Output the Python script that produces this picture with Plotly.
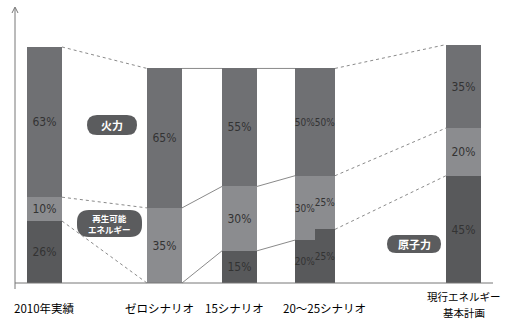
import plotly.graph_objects as go

# ---------------- data ----------------
bar_ids = ["2010年実績", "ゼロシナリオ", "15シナリオ", "20シナリオ", "25シナリオ", "現行エネルギー基本計画"]
nuclear = [26, 0, 15, 20, 25, 45]
renewable = [10, 35, 30, 30, 25, 20]
fossil = [63, 65, 55, 50, 50, 35]
total_scale = [1.0, 0.9, 0.9, 0.9, 0.9, 1.0]   # relative total generation

cat_labels = ["2010年実績", "ゼロシナリオ", "15シナリオ", "20～25シナリオ", "現行エネルギー<br>基本計画"]
legend_fossil = "火力"
legend_renew = "再生可能<br>エネルギー"
legend_nuclear = "原子力"

# ---------------- layout constants ----------------
W, H = 505, 320
K = 2.384            # pixels per unit
AX_Y = 283           # pixel row of the baseline
bar_x = [44.5, 164.5, 239.5, 305, 325, 463.5]
bar_w = [35, 35, 35, 20, 20, 35]
txt_size = [12, 12, 12, 10, 10, 12]
label_x = [44.5, 159, 234, 324, 464]
label_y = 308
ML_Y0 = 296.5        # first row of a two-row label
LINE_GAP = 15.5

C_FOSSIL = "#6f7073"
C_RENEW = "#8b8c8f"
C_NUC = "#58595b"
C_LINE = "#8a8a8a"
PCT_FONT = "DejaVu Sans Condensed, Liberation Sans Narrow, sans-serif"
JP_FONT = "Noto Sans CJK JP, sans-serif"

def scaled(vals):
    return [v * s for v, s in zip(vals, total_scale)]

def pct_text(vals):
    return [f"{v}%" if v else "" for v in vals]

fig = go.Figure()
for vals, col in [(nuclear, C_NUC), (renewable, C_RENEW), (fossil, C_FOSSIL)]:
    fig.add_trace(go.Bar(
        x=bar_x, y=scaled(vals), width=bar_w,
        marker=dict(color=col, line=dict(width=0)),
        text=pct_text(vals), textposition="inside", insidetextanchor="middle",
        textangle=0, constraintext="none",
        textfont=dict(family=PCT_FONT, size=txt_size, color="#333333"),
        hoverinfo="skip", showlegend=False,
    ))

# connector lines between neighbouring bars
n_top = scaled(nuclear)
r_top = [a + b for a, b in zip(n_top, scaled(renewable))]
t_top = [a + b for a, b in zip(r_top, scaled(fossil))]
pairs = [(0, 1, "dot"), (1, 2, "solid"), (2, 3, "solid"), (4, 5, "dot")]
for i, j, dash in pairs:
    for lvl in (n_top, r_top, t_top):
        fig.add_trace(go.Scatter(
            x=[bar_x[i] + bar_w[i] / 2, bar_x[j] - bar_w[j] / 2],
            y=[lvl[i], lvl[j]], mode="lines",
            line=dict(color=C_LINE, width=1, dash=dash),
            hoverinfo="skip", showlegend=False,
        ))

def px(x):
    return x / W

def py(y):
    return 1 - y / H

shapes = []
# axes
shapes.append(dict(type="line", xref="paper", yref="paper", x0=px(15), x1=px(15),
                   y0=py(289), y1=py(8), line=dict(color="#777777", width=1)))
shapes.append(dict(type="line", xref="paper", yref="paper", x0=px(15), x1=px(493),
                   y0=py(AX_Y), y1=py(AX_Y), line=dict(color="#777777", width=1)))
shapes.append(dict(type="path", xref="paper", yref="paper",
                   path=f"M {px(12)},{py(13)} L {px(15)},{py(7)} L {px(18)},{py(13)}",
                   line=dict(color="#777777", width=1)))

def pill(x0, y0, x1, y1, r):
    rx, ry = r, r
    p = (f"M {px(x0+rx)},{py(y0)} L {px(x1-rx)},{py(y0)} "
         f"Q {px(x1)},{py(y0)} {px(x1)},{py(y0+ry)} L {px(x1)},{py(y1-ry)} "
         f"Q {px(x1)},{py(y1)} {px(x1-rx)},{py(y1)} L {px(x0+rx)},{py(y1)} "
         f"Q {px(x0)},{py(y1)} {px(x0)},{py(y1-ry)} L {px(x0)},{py(y0+ry)} "
         f"Q {px(x0)},{py(y0)} {px(x0+rx)},{py(y0)} Z")
    return dict(type="path", xref="paper", yref="paper", path=p,
                fillcolor="#5b5c5e", line=dict(width=0), layer="above")

pills = [((87, 115, 137, 135, 10), legend_fossil, 11),
         ((77, 210, 142, 237, 12), legend_renew, 8.5),
         ((387, 235, 441, 253, 9), legend_nuclear, 11)]
annotations = []
for (x0, y0, x1, y1, r), txt, sz in pills:
    shapes.append(pill(x0, y0, x1, y1, r))
    annotations.append(dict(xref="paper", yref="paper", x=px((x0 + x1) / 2), y=py((y0 + y1) / 2),
                            text=txt, showarrow=False, xanchor="center", yanchor="middle",
                            font=dict(family=JP_FONT, size=sz, color="white", weight="bold")))

for lx, txt in zip(label_x, cat_labels):
    lines = txt.split("<br>")
    if len(lines) == 1:
        ys = [label_y]
        sz = 11.5
    else:
        ys = [ML_Y0 + k * LINE_GAP for k in range(len(lines))]
        sz = 10.5
    for line, ly in zip(lines, ys):
        annotations.append(dict(xref="paper", yref="paper", x=px(lx), y=py(ly), text=line,
                                showarrow=False, xanchor="center", yanchor="middle", borderpad=0,
                                font=dict(family=JP_FONT, size=sz, color="#000000")))

fig.update_layout(
    width=W, height=H, autosize=False,
    margin=dict(l=0, r=0, t=0, b=0),
    paper_bgcolor="white", plot_bgcolor="white",
    barmode="stack", bargap=0,
    xaxis=dict(range=[0, W], visible=False, fixedrange=True),
    yaxis=dict(range=[-(H - AX_Y) / K, AX_Y / K], visible=False, fixedrange=True),
    shapes=shapes, annotations=annotations,
    showlegend=False,
)
fig.write_html("out.html")
